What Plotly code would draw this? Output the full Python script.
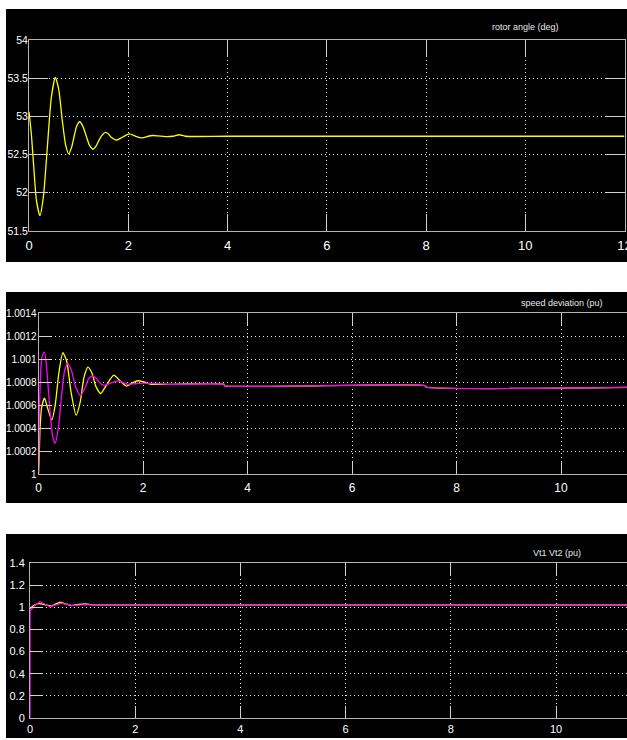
import plotly.graph_objects as go

# ---------------- data ----------------
# Panel 1: rotor angle (deg)
t_rotor = [0, 0.05, 0.1, 0.15, 0.22, 0.29, 0.37, 0.45, 0.53, 0.6, 0.67, 0.74, 0.80, 0.86,
           0.91, 0.96, 1.02, 1.08, 1.15, 1.22, 1.29, 1.35, 1.42, 1.48, 1.54, 1.60, 1.65,
           1.76, 1.89, 2.02, 2.15, 2.28, 2.4, 2.49, 2.6, 2.75, 2.9, 3.03, 3.15, 4.0, 12]
rotor_angle = [53.06, 52.75, 52.30, 51.90, 51.70, 51.95, 52.60, 53.25, 53.51, 53.35, 52.95,
               52.62, 52.51, 52.60, 52.74, 52.87, 52.93, 52.88, 52.75, 52.62, 52.57, 52.61,
               52.70, 52.76, 52.79, 52.77, 52.73, 52.69, 52.73, 52.77, 52.74, 52.72, 52.74,
               52.75, 52.745, 52.735, 52.74, 52.76, 52.74, 52.74, 52.74]

# Panel 2: speed deviation (pu)
t_speed1 = [0, 0.01, 0.03, 0.06, 0.115, 0.17, 0.255, 0.32, 0.39, 0.466, 0.54, 0.62, 0.72,
            0.80, 0.87, 0.945, 1.02, 1.10, 1.19, 1.31, 1.44, 1.56, 1.68, 1.79, 1.90, 2.02,
            2.15, 2.3, 2.5, 3.55, 3.56, 7.4, 7.41, 12]
speed1 = [1.0, 1.0001, 1.0004, 1.00058, 1.00066, 1.00058, 1.00047, 1.00060, 1.00088,
          1.001055, 1.00098, 1.00072, 1.00051, 1.00063, 1.00084, 1.00093, 1.00088,
          1.00076, 1.00070, 1.00078, 1.00086, 1.00081, 1.000765, 1.00079, 1.000811,
          1.00080, 1.00078, 1.00078, 1.00078, 1.00078, 1.000768, 1.000768,
          1.000757, 1.000757]
t_speed2 = [0, 0.02, 0.05, 0.08, 0.115, 0.16, 0.22, 0.27, 0.32, 0.38, 0.45, 0.50, 0.56,
            0.63, 0.71, 0.80, 0.90, 0.96, 1.03, 1.11, 1.18, 1.26, 1.38, 1.52, 1.62, 1.71,
            1.85, 2.0, 2.5, 3.55, 3.56, 7.4, 7.41, 12]
speed2 = [1.0, 1.0006, 1.00095, 1.00104, 1.00106, 1.00090, 1.00055, 1.00033, 1.000267,
          1.00040, 1.00072, 1.00090, 1.00096, 1.00090, 1.00076, 1.00068, 1.00076, 1.00083,
          1.00085, 1.00083, 1.00079, 1.00077, 1.00079, 1.00081, 1.000795, 1.00078,
          1.000785, 1.00079, 1.00078, 1.00078, 1.000768, 1.000768, 1.000757, 1.000757]

# Panel 3: Vt1 Vt2 (pu)
t_vt1 = [0, 0.08, 0.16, 0.28, 0.41, 0.49, 0.57, 0.68, 0.78, 0.92, 1.05, 1.2, 1.5, 1.55, 12]
vt1 = [0.99, 1.02, 1.035, 1.025, 1.01, 1.03, 1.045, 1.03, 1.015, 1.025, 1.03, 1.022,
       1.024, 1.022, 1.022]
t_vt2 = [0, 0.001, 0.1, 0.19, 0.28, 0.38, 0.48, 0.59, 0.70, 0.81, 0.92, 1.0, 12]
vt2 = [0, 0.966, 1.02, 1.05, 1.03, 1.005, 1.02, 1.036, 1.028, 1.015, 1.02, 1.022, 1.022]

x_ticks = [0, 2, 4, 6, 8, 10, 12]
x_ticktext = ["0", "2", "4", "6", "8", "10", "12"]
y1_ticks = [51.5, 52, 52.5, 53, 53.5, 54]
y1_ticktext = ["51.5", "52", "52.5", "53", "53.5", "54"]
y2_ticks = [1.0, 1.0002, 1.0004, 1.0006, 1.0008, 1.001, 1.0012, 1.0014]
y2_ticktext = ["1", "1.0002", "1.0004", "1.0006", "1.0008", "1.001", "1.0012", "1.0014"]
y3_ticks = [0, 0.2, 0.4, 0.6, 0.8, 1.0, 1.2, 1.4]
y3_ticktext = ["0", "0.2", "0.4", "0.6", "0.8", "1", "1.2", "1.4"]

titles = ["rotor angle (deg)", "speed deviation (pu)", "Vt1 Vt2 (pu)"]

# ---------------- layout helpers ----------------
W, H = 627, 740
FONT = "Liberation Sans, Arial, sans-serif"
YELLOW = "#ffff00"
MAGENTA = "#ff00ff"


def fx(p):
    return p / W


def fy(p):
    return 1 - p / H


fig = go.Figure()

line_kw = dict(width=1.3, shape="spline", smoothing=0.6)
fig.add_trace(go.Scatter(x=t_rotor, y=rotor_angle, mode="lines",
                         line=dict(color=YELLOW, **line_kw), xaxis="x", yaxis="y"))
fig.add_trace(go.Scatter(x=t_speed1, y=speed1, mode="lines",
                         line=dict(color=YELLOW, **line_kw), xaxis="x2", yaxis="y2"))
fig.add_trace(go.Scatter(x=t_speed2, y=speed2, mode="lines",
                         line=dict(color=MAGENTA, **line_kw), xaxis="x2", yaxis="y2"))
fig.add_trace(go.Scatter(x=t_vt1, y=vt1, mode="lines",
                         line=dict(color=YELLOW, width=1.3), xaxis="x3", yaxis="y3"))
fig.add_trace(go.Scatter(x=t_vt2, y=vt2, mode="lines",
                         line=dict(color=MAGENTA, width=1.3), xaxis="x3", yaxis="y3"))


def axis_style(size, ticklen, mirror, standoff=1):
    return dict(showline=True, linecolor="#b4b4b4", linewidth=1,
                ticks="inside", ticklen=ticklen, tickcolor="#d0d0d0", tickwidth=1,
                showgrid=True, gridcolor="#e6e6e6", gridwidth=1, griddash="1px,3px",
                zeroline=False, mirror=mirror, fixedrange=True, automargin=False,
                ticklabelstandoff=standoff, ticklabeloverflow="allow",
                tickfont=dict(family=FONT, size=size, color="white"))


# panel pixel geometry (plot areas)
p1 = dict(x0=29, x1=624.5, y0=40, y1=231)
p2 = dict(x0=38.5, x1=627, y0=313, y1=474)
p3 = dict(x0=30, x1=627, y0=563, y1=718)

fig.update_layout(
    xaxis=dict(domain=[fx(p1["x0"]), fx(p1["x1"])], range=[0, 12], anchor="y",
               tickvals=x_ticks, ticktext=x_ticktext, **axis_style(13, 17, "allticks", 2)),
    yaxis=dict(domain=[fy(p1["y1"]), fy(p1["y0"])], range=[51.5, 54], anchor="x",
               tickvals=y1_ticks, ticktext=y1_ticktext, **axis_style(10.5, 19, "allticks", -2)),
    xaxis2=dict(domain=[fx(p2["x0"]), 1.0], range=[0, (p2["x1"] - p2["x0"]) / 52.25],
                anchor="y2", tickvals=x_ticks, ticktext=x_ticktext,
                **axis_style(12, 12, "allticks", 3)),
    yaxis2=dict(domain=[fy(p2["y1"]), fy(p2["y0"])], range=[1.0, 1.0014], anchor="x2",
                tickvals=y2_ticks, ticktext=y2_ticktext, **axis_style(10, 12, False, -1)),
    xaxis3=dict(domain=[fx(p3["x0"]), 1.0], range=[0, (p3["x1"] - p3["x0"]) / 52.6],
                anchor="y3", tickvals=x_ticks, ticktext=x_ticktext,
                **axis_style(11, 12, "allticks", 1)),
    yaxis3=dict(domain=[fy(p3["y1"]), fy(p3["y0"])], range=[0, 1.4], anchor="x3",
                tickvals=y3_ticks, ticktext=y3_ticktext, **axis_style(11, 12, False, 2)),
)

# black scope backgrounds
panels_bg = [(6, 627, 9, 262), (6, 627, 292, 503), (6, 627, 534, 738)]
shapes = []
for (a, b, c, d) in panels_bg:
    shapes.append(dict(type="rect", xref="paper", yref="paper", x0=fx(a), x1=fx(b),
                       y0=fy(d), y1=fy(c), fillcolor="black", line=dict(width=0),
                       layer="below"))

# titles
title_pos = [(525, 27), (562, 303), (557, 553)]
annotations = []
for txt, (cx, cy) in zip(titles, title_pos):
    annotations.append(dict(text=txt, xref="paper", yref="paper", x=fx(cx), y=fy(cy),
                            xanchor="center", yanchor="middle", showarrow=False,
                            font=dict(family=FONT, size=9, color="#e8e8e8")))

fig.update_layout(
    width=W, height=H, autosize=False,
    margin=dict(l=0, r=0, t=0, b=0, pad=0),
    paper_bgcolor="white", plot_bgcolor="black",
    showlegend=False, shapes=shapes, annotations=annotations,
)

fig.write_html("out.html", config={"displayModeBar": False},
               post_script="document.body.style.margin='0';document.body.style.overflow='hidden';")
